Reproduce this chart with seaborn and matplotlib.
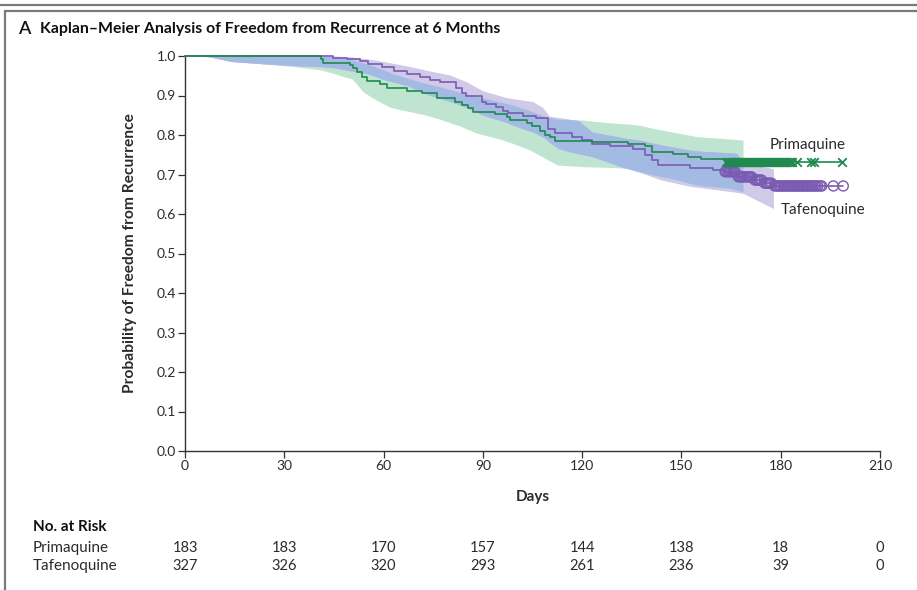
import numpy as np
import pandas as pd
import matplotlib
matplotlib.use("Agg")
import matplotlib.pyplot as plt
import matplotlib.transforms as mtransforms
from matplotlib.lines import Line2D
import seaborn as sns

# ---------------- data ----------------
# Kaplan-Meier step curves (day, survival)
prim_days = [0, 41.0, 41.8, 49.9, 50.9, 51.9, 53.4, 54.9, 58.9, 60.9, 67.0, 71.5, 76.0,
             81.6, 83.6, 85.6, 87.1, 93.7, 97.2, 98.2, 103.2, 104.7, 107.3, 108.8, 110.3,
             111.8, 122.9, 134.0, 139.0, 141.0, 147.5, 152.0, 156.0, 163.3, 198.4]
prim_surv = [1.0, 0.993, 0.983, 0.977, 0.969, 0.960, 0.948, 0.937, 0.928, 0.918, 0.912, 0.906, 0.893,
             0.884, 0.876, 0.868, 0.858, 0.852, 0.846, 0.838, 0.831, 0.823, 0.810, 0.800, 0.794,
             0.786, 0.783, 0.777, 0.771, 0.758, 0.752, 0.745, 0.740, 0.732, 0.732]

taf_days = [0, 44.8, 49.0, 53.0, 55.4, 59.4, 63.0, 67.0, 71.0, 74.0, 77.0, 82.0, 83.6, 85.0,
            89.6, 91.0, 94.0, 96.0, 97.7, 102.0, 106.0, 109.8, 111.8, 117.0, 120.0, 123.0,
            128.4, 135.4, 139.0, 141.0, 143.0, 152.6, 159.6, 163.0, 166.8, 171.8, 174.8, 177.8, 198.9]
taf_surv = [1.0, 0.996, 0.992, 0.988, 0.981, 0.973, 0.963, 0.954, 0.946, 0.939, 0.935, 0.918, 0.907, 0.899,
            0.884, 0.878, 0.870, 0.861, 0.855, 0.849, 0.842, 0.814, 0.804, 0.796, 0.787, 0.778,
            0.772, 0.764, 0.749, 0.737, 0.724, 0.716, 0.711, 0.707, 0.694, 0.686, 0.678, 0.671, 0.671]

# censoring times
prim_censor = [163.5, 164, 164.5, 165, 165.5, 166, 166.5, 167, 167.5, 168, 168.5, 169, 169.5,
               170, 170.5, 171, 171.5, 172, 172.5, 173, 173.5, 174, 174.5, 175, 175.5, 176,
               176.5, 177, 177.5, 178, 178.5, 179, 179.5, 180, 180.5, 181, 181.5, 182, 182.5,
               183, 183.5, 184.8, 189.0, 190.0, 198.4]
taf_censor = [163.2, 163.7, 164.2, 164.7, 165.2, 165.7, 166.2, 167.2, 167.7, 168.2, 168.7, 169.2,
              169.7, 170.2, 170.7, 171.2, 172.2, 172.7, 173.2, 173.7, 174.2, 175.2, 175.7, 176.2,
              176.7, 177.2, 178.2, 178.7, 179.2, 179.7, 180.2, 180.7, 181.2, 181.7, 182.2, 182.7,
              183.2, 183.7, 184.2, 184.7, 185.2, 185.7, 186.2, 186.7, 187.2, 187.7, 188.2, 188.7,
              189.2, 189.7, 190.2, 190.7, 191.2, 191.9, 192.4, 195.9, 198.9]

# 95% confidence bands (day, lower, upper)
prim_band_days = [5, 8, 14, 24, 32, 41, 45, 47, 50.5, 54, 57.5, 62, 64, 72, 77, 83, 88, 95,
                  99, 104, 109, 112.5, 120, 128, 133.5, 137, 141.4, 147, 154.5, 164.6, 168.7]
prim_band_low = [1.0, 0.997, 0.986, 0.980, 0.974, 0.965, 0.956, 0.950, 0.942, 0.908, 0.890, 0.870, 0.866,
                 0.852, 0.840, 0.823, 0.805, 0.790, 0.779, 0.763, 0.740, 0.724, 0.720, 0.718, 0.716,
                 0.708, 0.699, 0.690, 0.673, 0.665, 0.656]
prim_band_up = [1.0, 1.0, 1.0, 1.0, 1.0, 1.0, 0.997, 0.995, 0.990, 0.982, 0.973, 0.958, 0.952,
                0.932, 0.922, 0.908, 0.898, 0.884, 0.876, 0.862, 0.846, 0.840, 0.838, 0.831, 0.828,
                0.825, 0.817, 0.808, 0.796, 0.790, 0.787]

taf_band_days = [5, 8, 14, 24, 34, 41, 45, 50, 55, 57, 60, 67, 74, 80, 85, 90, 97, 99, 104, 105,
                 108, 109, 110, 113, 115, 119, 123, 133, 137.5, 144, 152.6, 154.5, 166.6, 168.7, 177.8]
taf_band_low = [1.0, 0.997, 0.986, 0.980, 0.975, 0.973, 0.970, 0.962, 0.955, 0.950, 0.940, 0.925, 0.900,
                0.885, 0.870, 0.850, 0.832, 0.825, 0.810, 0.808, 0.795, 0.790, 0.782, 0.765, 0.760,
                0.752, 0.745, 0.716, 0.705, 0.686, 0.670, 0.668, 0.655, 0.652, 0.614]
taf_band_up = [1.0, 1.0, 1.0, 1.0, 1.0, 1.0, 1.0, 0.998, 0.993, 0.990, 0.986, 0.975, 0.962,
               0.952, 0.935, 0.912, 0.895, 0.892, 0.886, 0.885, 0.870, 0.860, 0.848, 0.844, 0.842,
               0.836, 0.808, 0.792, 0.787, 0.775, 0.762, 0.760, 0.754, 0.730, 0.715]

# number at risk
risk_days = [0, 30, 60, 90, 120, 150, 180, 210]
prim_risk = [183, 183, 170, 157, 144, 138, 18, 0]
taf_risk = [327, 326, 320, 293, 261, 236, 39, 0]

x_ticks = [0, 30, 60, 90, 120, 150, 180, 210]
y_ticks = [0.0, 0.1, 0.2, 0.3, 0.4, 0.5, 0.6, 0.7, 0.8, 0.9, 1.0]

title_text = "Kaplan\u2013Meier Analysis of Freedom from Recurrence at 6 Months"
group_names = ["Primaquine", "Tafenoquine"]

# ---------------- style ----------------
sns.set_theme(style="ticks")
FONT = ["Lato", "DejaVu Sans"]
plt.rcParams["font.family"] = FONT
TXT = "#2b2b2b"

GREEN = "#1e8a4e"
PURPLE = "#7a5bb3"
GREEN_BAND = "#bfe5d1"
PURPLE_BAND = "#d0c9e7"
BLUE_BAND = "#a3bbe2"
FRAME = "#7a7a7a"

W, H = 917, 590
fig = plt.figure(figsize=(W / 100, H / 100), dpi=100)
fig.patch.set_facecolor("white")


def fx(x):
    return x / W


def fy(y):
    return 1 - y / H


ax = fig.add_axes([fx(185), fy(451), fx(880) - fx(185), fy(56) - fy(451)])
ax.set_facecolor("none")

# ---- confidence bands ----
grid = np.linspace(0, 180, 1801)
pl = np.interp(grid, prim_band_days, prim_band_low, left=np.nan, right=np.nan)
pu = np.interp(grid, prim_band_days, prim_band_up, left=np.nan, right=np.nan)
tl = np.interp(grid, taf_band_days, taf_band_low, left=np.nan, right=np.nan)
tu = np.interp(grid, taf_band_days, taf_band_up, left=np.nan, right=np.nan)

ok_p = ~np.isnan(pl)
ok_t = ~np.isnan(tl)
ax.fill_between(grid[ok_p], pl[ok_p], pu[ok_p], color=GREEN_BAND, lw=0, zorder=1, clip_on=False)
ax.fill_between(grid[ok_t], tl[ok_t], tu[ok_t], color=PURPLE_BAND, lw=0, zorder=1, clip_on=False)
both = ok_p & ok_t
lo = np.maximum(pl, tl)
hi = np.minimum(pu, tu)
ax.fill_between(grid[both], lo[both], hi[both], where=(hi[both] > lo[both]),
                color=BLUE_BAND, lw=0, zorder=2, clip_on=False, interpolate=True)

# ---- KM curves ----
df_p = pd.DataFrame({"day": prim_days, "surv": prim_surv})
df_t = pd.DataFrame({"day": taf_days, "surv": taf_surv})
sns.lineplot(data=df_t, x="day", y="surv", drawstyle="steps-post", color=PURPLE,
             lw=1.2, estimator=None, ax=ax, zorder=4, clip_on=False)
sns.lineplot(data=df_p, x="day", y="surv", drawstyle="steps-post", color=GREEN,
             lw=1.2, estimator=None, ax=ax, zorder=5, clip_on=False)


def step_value(days, surv, t):
    idx = np.searchsorted(days, t, side="right") - 1
    return np.asarray(surv)[idx]


pc_y = [step_value(prim_days, prim_surv, t) for t in prim_censor]
tc_y = [step_value(taf_days, taf_surv, t) for t in taf_censor]
ax.scatter(taf_censor, tc_y, s=52, marker="o", facecolors="none", edgecolors=PURPLE,
           linewidths=1.0, zorder=6, clip_on=False)
ax.scatter(prim_censor, pc_y, s=38, marker="x", color=GREEN, linewidths=1.3,
           zorder=7, clip_on=False)

# ---- axes ----
ax.set_xlim(0, 210)
ax.set_ylim(0, 1.0)
ax.set_xticks(x_ticks)
ax.set_xticklabels([str(v) for v in x_ticks])
ax.set_yticks(y_ticks)
ax.set_yticklabels([f"{v:.1f}" for v in y_ticks])
ax.set_xlabel("")
ax.set_ylabel("")
for s in ["top", "right"]:
    ax.spines[s].set_visible(False)
for s in ["left", "bottom"]:
    ax.spines[s].set_color("#333333")
    ax.spines[s].set_linewidth(1.0)
ax.tick_params(axis="both", which="major", direction="out", length=5, width=0.9,
               color="#333333", labelsize=10, labelcolor=TXT, pad=1.5,
               bottom=True, left=True, top=False, right=False)
ax.grid(False)

# ---- labels ----
ax.text(188.2, 0.775, group_names[0], ha="center", va="center", fontsize=11, color=TXT)
ax.text(192.8, 0.610, group_names[1], ha="center", va="center", fontsize=11, color=TXT)

fig.text(fx(18), fy(29), "A", fontsize=13, color="#111111", va="center", ha="left",
         fontweight="semibold")
fig.text(fx(40), fy(29), title_text, fontsize=11.4, color="#111111", va="center",
         ha="left", fontweight="bold")
fig.text(fx(130), fy(253), "Probability of Freedom from Recurrence", rotation=90,
         fontsize=11.2, fontweight="bold", color=TXT, ha="center", va="center")
fig.text(fx(533), fy(497), "Days", fontsize=11, fontweight="bold", color=TXT,
         ha="center", va="center")

fig.text(fx(33), fy(527), "No. at Risk", fontsize=11, fontweight="bold", color="#111111",
         ha="left", va="center")
fig.text(fx(33), fy(548), group_names[0], fontsize=11, color=TXT, ha="left", va="center")
fig.text(fx(33), fy(566), group_names[1], fontsize=11, color=TXT, ha="left", va="center")

trans = mtransforms.blended_transform_factory(ax.transData, fig.transFigure)
for d, a, b in zip(risk_days, prim_risk, taf_risk):
    ax.text(d, fy(548), str(a), transform=trans, ha="center", va="center", fontsize=10.5, color=TXT)
    ax.text(d, fy(566), str(b), transform=trans, ha="center", va="center", fontsize=10.5, color=TXT)

# ---- frame ----
fig.add_artist(Line2D([0, 1], [fy(5), fy(5)], transform=fig.transFigure, color=FRAME, lw=1.6))
fig.add_artist(Line2D([fx(5), 1], [fy(11), fy(11)], transform=fig.transFigure, color=FRAME, lw=1.6))
fig.add_artist(Line2D([fx(5), fx(5)], [fy(11), 0], transform=fig.transFigure, color=FRAME, lw=1.6))

fig.savefig("out.png", dpi=100)
